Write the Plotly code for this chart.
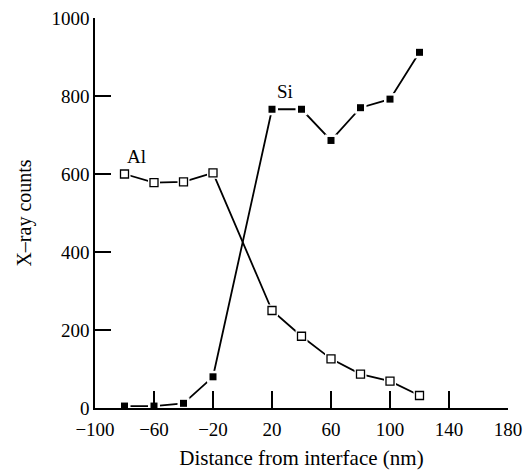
import plotly.graph_objects as go

distance = [-80, -60, -40, -20, 20, 40, 60, 80, 100, 120]
al_counts = [600, 578, 580, 603, 250, 184, 126, 87, 69, 32]
si_counts = [5, 5, 12, 80, 766, 766, 686, 770, 792, 912]
x_ticks = [-100, -60, -20, 20, 60, 100, 140, 180]
x_tick_labels = ["\u2212100", "\u221260", "\u221220", "20", "60", "100", "140", "180"]
y_ticks = [0, 200, 400, 600, 800, 1000]

FONT = "Liberation Serif, Times New Roman, serif"

fig = go.Figure()
fig.add_trace(go.Scatter(x=distance, y=al_counts, mode="lines",
                         line=dict(color="black", width=1.8), showlegend=False))
fig.add_trace(go.Scatter(x=distance, y=si_counts, mode="lines",
                         line=dict(color="black", width=1.8), showlegend=False))
# white masks to give small gaps around markers
fig.add_trace(go.Scatter(x=distance + distance, y=al_counts + si_counts, mode="markers",
                         marker=dict(symbol="square", size=12, color="white",
                                     line=dict(width=0)), showlegend=False, hoverinfo="skip"))
fig.add_trace(go.Scatter(x=distance, y=al_counts, mode="markers",
                         marker=dict(symbol="square", size=8, color="white",
                                     line=dict(color="black", width=1.3)), showlegend=False))
fig.add_trace(go.Scatter(x=distance, y=si_counts, mode="markers",
                         marker=dict(symbol="square", size=7, color="black",
                                     line=dict(width=0)), showlegend=False))

fig.add_annotation(x=-72, y=644, text="Al", showarrow=False,
                   font=dict(family=FONT, size=19, color="black"))
fig.add_annotation(x=29, y=812, text="Si", showarrow=False,
                   font=dict(family=FONT, size=19, color="black"))

fig.update_layout(
    width=525, height=471,
    margin=dict(l=95, r=17, t=18, b=63),
    plot_bgcolor="white", paper_bgcolor="white",
    font=dict(family=FONT, size=19, color="black"),
    xaxis=dict(range=[-100, 180], tickvals=x_ticks, ticktext=x_tick_labels,
               showgrid=False, zeroline=False, showline=True, linecolor="black", linewidth=1.5,
               ticks="inside", ticklen=17, tickwidth=1.5, tickcolor="black",
               ticklabelstandoff=3, ticklabeloverflow="allow", automargin=False,
               title=dict(text="Distance from interface (nm)", standoff=12,
                          font=dict(family=FONT, size=21))),
    yaxis=dict(range=[0, 1000], tickvals=y_ticks,
               showgrid=False, zeroline=False, showline=True, linecolor="black", linewidth=1.5,
               ticks="inside", ticklen=16, tickwidth=1.5, tickcolor="black",
               ticklabelstandoff=0, ticklabeloverflow="allow", automargin=False,
               title=dict(text="X\u2013ray counts", standoff=14,
                          font=dict(family=FONT, size=20))),
)

fig.write_html("out.html", config={"displayModeBar": False},
               post_script="document.body.style.margin='0px';document.body.style.overflow='hidden';")
